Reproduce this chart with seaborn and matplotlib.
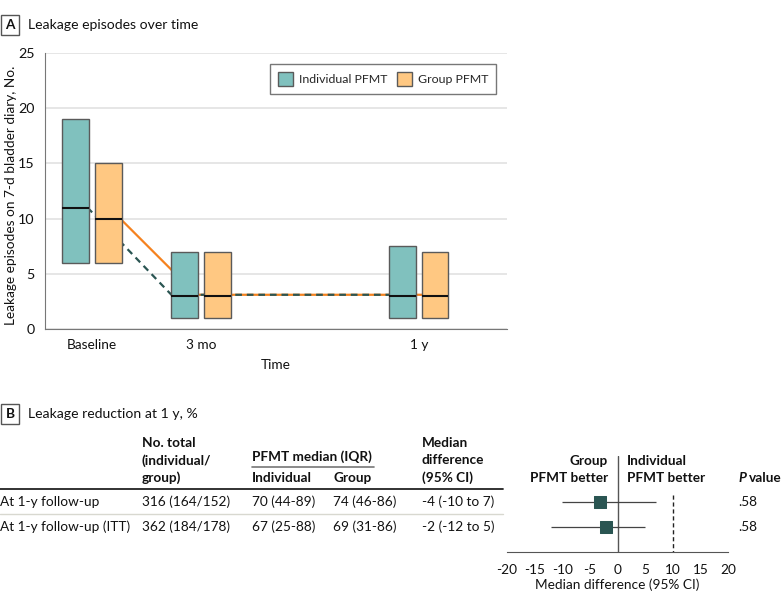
import numpy as np
import pandas as pd
import matplotlib
matplotlib.use("Agg")
import matplotlib.pyplot as plt
import seaborn as sns

# -------------------- Data --------------------
time_labels = ["Baseline", "3 mo", "1 y"]
time_pos = [0, 1, 3]

indiv_q1 = [6, 1, 1]
indiv_med = [11, 3, 3]
indiv_q3 = [19, 7, 7.5]
group_q1 = [6, 1, 1]
group_med = [10, 3, 3]
group_q3 = [15, 7, 7]

# trend lines (as drawn between the boxes)
indiv_line_x = [-0.04, 0.73, 3.0]
indiv_line_y = [11, 3.1, 3.1]
group_line_x = [0.26, 0.96, 3.15]
group_line_y = [10, 3.1, 3.1]

rows = ["At 1-y follow-up", "At 1-y follow-up (ITT)"]
n_total = ["316 (164/152)", "362 (184/178)"]
med_indiv = ["70 (44-89)", "67 (25-88)"]
med_group = ["74 (46-86)", "69 (31-86)"]
med_diff_txt = ["-4 (-10 to 7)", "-2 (-12 to 5)"]
p_values = [".58", ".58"]
diff_est = [-3.1, -2.0]
diff_lo = [-10, -12]
diff_hi = [7, 5]

# -------------------- Style --------------------
sns.set_style("white")
plt.rcParams["font.family"] = ["Lato", "DejaVu Sans"]
plt.rcParams["axes.unicode_minus"] = False
FS = 9.8
TEAL = "#80c1be"
ORANGE = "#ffc882"
EDGE = "#5a5a5a"
DARK = "#2a5552"
LINE_OR = "#f5821f"
TXT = "#111111"
W, H = 783, 605

fig = plt.figure(figsize=(W / 100, H / 100), dpi=100)


def fx(x):
    return x / W


def fy(y):
    return 1 - y / H


def ftext(x, y, s, **kw):
    kw.setdefault("fontsize", FS)
    kw.setdefault("va", "center")
    fig.text(fx(x), fy(y), s, color=TXT, **kw)


def panel_label(y, letter, title):
    ftext(10, y, letter, ha="center", fontweight="bold",
          bbox=dict(boxstyle="square,pad=0.3", fc="white", ec="#555555", lw=1))
    ftext(28, y, title, fontsize=FS + 0.3)


# -------------------- Panel A --------------------
panel_label(25, "A", "Leakage episodes over time")
ax = fig.add_axes([fx(45), fy(329), fx(507) - fx(45), fy(53) - fy(329)])
ax.set_xlim(-0.43, 3.81)
ax.set_ylim(0, 25)
ax.set_yticks([0, 5, 10, 15, 20, 25])
ax.yaxis.grid(True, color="#e4e4e4", lw=1.3)
ax.set_axisbelow(True)
for s in ["top", "right"]:
    ax.spines[s].set_visible(False)
for s in ["left", "bottom"]:
    ax.spines[s].set_color("#777777")
ax.tick_params(axis="both", length=4, color="#777777", labelsize=FS + 0.5, labelcolor=TXT)
ax.set_xticks(time_pos)
ax.set_xticklabels(time_labels, fontsize=FS)

off, bw = 0.15, 0.245
xp = np.array(time_pos, dtype=float)
ax.plot(group_line_x, group_line_y, color=LINE_OR, lw=1.6, zorder=2)
ax.plot(indiv_line_x, indiv_line_y, color=DARK, lw=1.6, ls=(0, (3, 2.2)), zorder=2.1)
ax.bar(xp - off, np.subtract(indiv_q3, indiv_q1), bottom=indiv_q1, width=bw,
       color=TEAL, edgecolor=EDGE, lw=1, zorder=3, label="Individual PFMT")
ax.bar(xp + off, np.subtract(group_q3, group_q1), bottom=group_q1, width=bw,
       color=ORANGE, edgecolor=EDGE, lw=1, zorder=3, label="Group PFMT")
ax.hlines(indiv_med, xp - off - bw / 2, xp - off + bw / 2, color="#111111", lw=1.5, zorder=4)
ax.hlines(group_med, xp + off - bw / 2, xp + off + bw / 2, color="#111111", lw=1.5, zorder=4)

leg = ax.legend(loc="upper right", bbox_to_anchor=(0.976, 0.96), borderaxespad=0,
                ncol=2, frameon=True, fancybox=False, edgecolor="#555555",
                fontsize=8.9, handlelength=1.2, handleheight=1.35, columnspacing=0.8,
                handletextpad=0.45, borderpad=0.65)
leg.get_frame().set_linewidth(1)

ftext(11, 195, "Leakage episodes on 7-d bladder diary, No.", rotation=90, ha="center")
ftext(276, 365, "Time", ha="center")

# -------------------- Panel B --------------------
panel_label(414, "B", "Leakage reduction at 1 y, %")

for i, s in enumerate(["No. total", "(individual/", "group)"]):
    ftext(142, 443 + 17.5 * i, s, fontweight="bold")
    ftext(422, 443 + 17.5 * i, ["Median", "difference", "(95% CI)"][i], fontweight="bold")
ftext(252, 457, "PFMT median (IQR)", fontweight="bold")
ftext(252, 478, "Individual", fontweight="bold")
ftext(333, 478, "Group", fontweight="bold")
fig.add_artist(plt.Line2D([fx(252), fx(374)], [fy(467), fy(467)], color="#777777", lw=1.2))
fig.add_artist(plt.Line2D([fx(0), fx(503)], [fy(489), fy(489)], color="#222222", lw=1.3))
fig.add_artist(plt.Line2D([fx(0), fx(503)], [fy(514), fy(514)], color="#d8d8d0", lw=1))

row_y = [502, 527]
for i in range(len(rows)):
    ftext(0, row_y[i], rows[i])
    ftext(142, row_y[i], n_total[i])
    ftext(252, row_y[i], med_indiv[i])
    ftext(333, row_y[i], med_group[i])
    ftext(422, row_y[i], med_diff_txt[i])
    ftext(738, row_y[i], p_values[i])

ftext(608, 461, "Group", ha="right", fontweight="bold")
ftext(608, 478, "PFMT better", ha="right", fontweight="bold")
ftext(627, 461, "Individual", ha="left", fontweight="bold")
ftext(627, 478, "PFMT better", ha="left", fontweight="bold")
ftext(738, 478, "P", fontweight="bold", fontstyle="italic")
ftext(749, 478, "value", fontweight="bold")

axf = fig.add_axes([fx(507), fy(552), fx(728) - fx(507), fy(456) - fy(552)])
axf.set_xlim(-20, 20)
axf.set_ylim(3.0, -0.84)
for s in ["top", "right", "left"]:
    axf.spines[s].set_visible(False)
axf.spines["bottom"].set_color("#555555")
axf.set_yticks([])
axf.set_xticks(np.arange(-20, 21, 5))
axf.tick_params(axis="x", length=5, color="#555555", labelsize=FS, labelcolor=TXT)
axf.axvline(0, color="#555555", lw=1)
axf.vlines(10, 0.72, 3.0, color="#222222", lw=1, ls=(0, (3, 2)))
fy_rows = [1, 2]
axf.hlines(fy_rows, diff_lo, diff_hi, color="#444444", lw=0.9)
forest = pd.DataFrame({"est": diff_est, "row": fy_rows})
sns.scatterplot(data=forest, x="est", y="row", marker="s", s=85, color=DARK,
                edgecolor=DARK, ax=axf, zorder=3, legend=False)
axf.set_xlabel("")
axf.set_ylabel("")
ftext(617, 585, "Median difference (95% CI)", ha="center")

fig.savefig("out.png", dpi=100)
